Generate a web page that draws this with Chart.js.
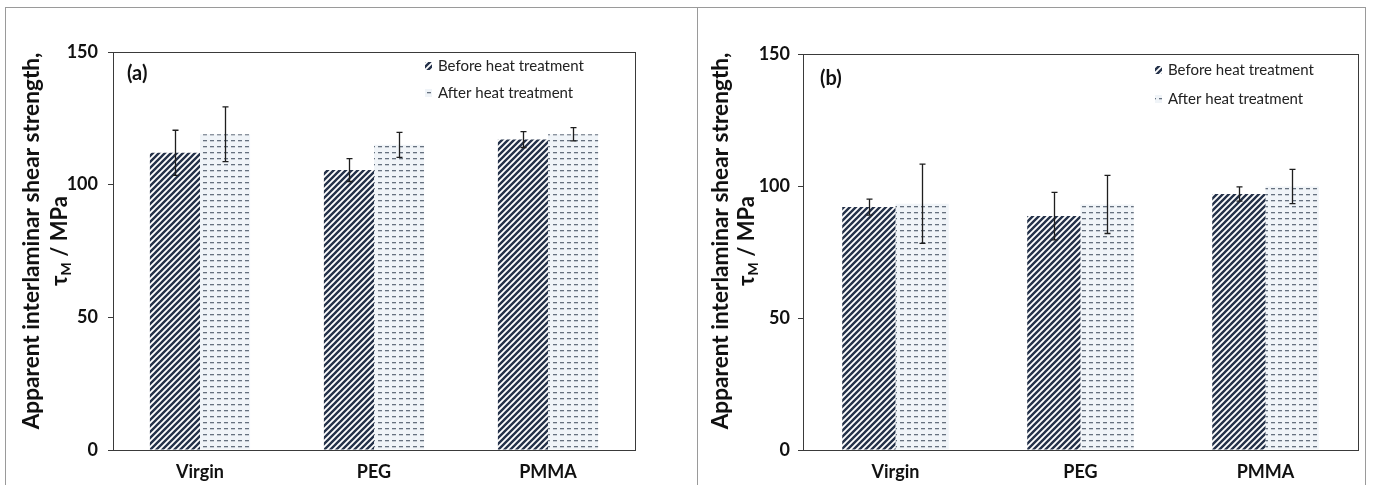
<!DOCTYPE html>
<html>
<head>
<meta charset="utf-8">
<script src="https://cdn.jsdelivr.net/npm/chart.js@4.4.1/dist/chart.umd.min.js"></script>
<style>
  html, body { margin: 0; padding: 0; background: #ffffff; width: 1373px; height: 485px; overflow: hidden; }
  .panel { position: absolute; border: 1px solid #9a9a9a; box-sizing: border-box; }
  canvas { position: absolute; top: 0; }
</style>
</head>
<body>
<div class="panel" style="left:5px; top:7px; width:693px; height:500px;"></div>
<div class="panel" style="left:697px; top:7px; width:669px; height:500px;"></div>
<canvas id="chartA" width="697" height="485" style="left:0px;"></canvas>
<canvas id="chartB" width="676" height="485" style="left:697px;"></canvas>
<script>
// ---------------- data ----------------
const categories = ['Virgin', 'PEG', 'PMMA'];
const seriesLabels = ['Before heat treatment', 'After heat treatment'];
const yTicks = [0, 50, 100, 150];

const beforeA    = [112, 105.5, 117];
const beforeAErr = [8.5, 4.3, 3.0];
const afterA     = [119, 115, 119];
const afterAErr  = [10.3, 4.7, 2.5];

const beforeB    = [92, 88.6, 97];
const beforeBErr = [3.0, 9.0, 2.7];
const afterB     = [93.3, 93, 99.8];
const afterBErr  = [15, 11, 6.5];

const panelLabels = ['(a)', '(b)'];
const yTitleLine1 = 'Apparent interlaminar shear strength,';
// ---------------- patterns ----------------
function stripePattern(ctx) {
  const c = document.createElement('canvas');
  const s = 6;
  c.width = s; c.height = s;
  const g = c.getContext('2d');
  g.fillStyle = '#ffffff';
  g.fillRect(0, 0, s, s);
  g.strokeStyle = '#25324a';
  g.lineWidth = 2.4;
  g.beginPath();
  g.moveTo(-s, 2 * s); g.lineTo(2 * s, -s);
  g.moveTo(-2 * s, 2 * s); g.lineTo(s, -s);
  g.moveTo(0, 2 * s); g.lineTo(3 * s, -s);
  g.stroke();
  return ctx.createPattern(c, 'repeat');
}
function dashPattern(ctx) {
  const c = document.createElement('canvas');
  c.width = 7; c.height = 6;
  const g = c.getContext('2d');
  g.fillStyle = '#f0f4f8';
  g.fillRect(0, 0, 7, 6);
  g.fillStyle = '#66717f';
  g.fillRect(0, 2, 4, 1.3);
  return ctx.createPattern(c, 'repeat');
}

// ---------------- plugins ----------------
const errorBarPlugin = {
  id: 'errorBars',
  afterDatasetsDraw(chart) {
    const ctx = chart.ctx;
    const ys = chart.scales.y;
    ctx.save();
    ctx.strokeStyle = '#1e1e1e';
    ctx.lineWidth = 1.3;
    chart.data.datasets.forEach((ds, di) => {
      const meta = chart.getDatasetMeta(di);
      meta.data.forEach((bar, i) => {
        const v = ds.data[i], e = ds.errors[i];
        const yt = ys.getPixelForValue(v + e);
        const yb = ys.getPixelForValue(v - e);
        const x = Math.round(bar.x) + 0.5;
        ctx.beginPath();
        ctx.moveTo(x, yt); ctx.lineTo(x, yb);
        ctx.moveTo(x - 3, yt); ctx.lineTo(x + 3, yt);
        ctx.moveTo(x - 3, yb); ctx.lineTo(x + 3, yb);
        ctx.stroke();
      });
    });
    ctx.restore();
  }
};

const decorPlugin = {
  id: 'decor',
  afterDraw(chart, args, opts) {
    const ctx = chart.ctx;
    const a = chart.chartArea;
    ctx.save();
    // plot frame
    ctx.strokeStyle = '#3a3a3a';
    ctx.lineWidth = 1;
    ctx.strokeRect(Math.round(a.left) + 0.5, Math.round(a.top) + 0.5,
                   Math.round(a.right - a.left), Math.round(a.bottom - a.top));
    // panel label
    ctx.fillStyle = '#111111';
    ctx.font = 'bold 20px Lato';
    ctx.textBaseline = 'middle';
    ctx.textAlign = 'left';
    ctx.fillText(opts.panel, a.left + opts.panelDx, a.top + opts.panelDy);
    // legend
    ctx.font = '15px Lato';
    const pats = [chart.data.datasets[0].backgroundColor, chart.data.datasets[1].backgroundColor];
    seriesLabels.forEach((lab, i) => {
      const y = a.top + opts.legDy[i];
      ctx.fillStyle = pats[i];
      ctx.fillRect(opts.legX, y - 4, 7, 8);
      ctx.fillStyle = '#222222';
      ctx.fillText(lab, opts.legX + 13, y);
    });
    // y title (two lines, rotated)
    const cy = opts.titleCy;
    ctx.translate(opts.title1X, cy);
    ctx.rotate(-Math.PI / 2);
    let fs = 20;
    ctx.font = 'bold ' + fs + 'px Lato';
    const w = ctx.measureText(yTitleLine1).width;
    fs = fs * opts.title1W / w;
    ctx.font = 'bold ' + fs.toFixed(2) + 'px Lato';
    ctx.textAlign = 'center';
    ctx.textBaseline = 'middle';
    ctx.fillStyle = '#111111';
    ctx.fillText(yTitleLine1, 0, 0);
    ctx.setTransform(1, 0, 0, 1, 0, 0);
    ctx.translate(opts.title2X, cy);
    ctx.rotate(-Math.PI / 2);
    ctx.textAlign = 'left';
    const big = 'bold 22px Lato', small = 'bold 14px Lato';
    ctx.font = big; const wt = ctx.measureText('τ').width;
    ctx.font = small; const wm = ctx.measureText('M').width;
    ctx.font = big; const wr = ctx.measureText(' / MPa').width;
    let x0 = -(wt + wm + wr) / 2;
    ctx.font = big; ctx.fillText('τ', x0, 0);
    ctx.font = small; ctx.fillText('M', x0 + wt, 6);
    ctx.font = big; ctx.fillText(' / MPa', x0 + wt + wm, 0);
    ctx.restore();
  }
};

// ---------------- charts ----------------
function makeChart(id, before, beforeErr, after, afterErr, cfg) {
  const canvas = document.getElementById(id);
  const ctx = canvas.getContext('2d');
  return new Chart(ctx, {
    type: 'bar',
    data: {
      labels: categories,
      datasets: [
        { label: seriesLabels[0], data: before, errors: beforeErr,
          backgroundColor: stripePattern(ctx), borderWidth: 0 },
        { label: seriesLabels[1], data: after, errors: afterErr,
          backgroundColor: dashPattern(ctx), borderWidth: 0 }
      ]
    },
    options: {
      responsive: false,
      animation: false,
      devicePixelRatio: 1,
      categoryPercentage: 0.576,
      barPercentage: 1.0,
      layout: { padding: { left: 0, top: cfg.top, right: cfg.right, bottom: 0 } },
      plugins: {
        legend: { display: false },
        tooltip: { enabled: false },
        decor: cfg.decor
      },
      scales: {
        x: {
          grid: { display: false },
          border: { display: true, color: '#3a3a3a', width: 1 },
          ticks: { color: '#111111', font: { family: 'Lato', size: 18, weight: 'bold' }, padding: 3 },
          afterFit: s => { s.height = 35; }
        },
        y: {
          min: yTicks[0], max: yTicks[yTicks.length - 1],
          afterBuildTicks: s => { s.ticks = yTicks.map(v => ({ value: v })); },
          grid: { drawOnChartArea: false, drawTicks: true, tickLength: 5, color: '#3a3a3a' },
          border: { display: true, color: '#3a3a3a', width: 1 },
          ticks: { color: '#111111', font: { family: 'Lato', size: 18, weight: 'bold' }, padding: cfg.tickPad },
          afterFit: s => { s.width = cfg.yWidth; }
        }
      }
    },
    plugins: [errorBarPlugin, decorPlugin]
  });
}

makeChart('chartA', beforeA, beforeAErr, afterA, afterAErr, {
  top: 52, right: 62, yWidth: 113, tickPad: 10,
  decor: { panel: panelLabels[0], panelDx: 14, panelDy: 22,
           legX: 425, legDy: [14, 41],
           title1X: 32, title2X: 60, title1W: 377, titleCy: 241 }
});
makeChart('chartB', beforeB, beforeBErr, afterB, afterBErr, {
  top: 54, right: 15, yWidth: 106, tickPad: 8,
  decor: { panel: panelLabels[1], panelDx: 17, panelDy: 25,
           legX: 458, legDy: [16, 45],
           title1X: 24, title2X: 50, title1W: 377, titleCy: 241 }
});
</script>
</body>
</html>
